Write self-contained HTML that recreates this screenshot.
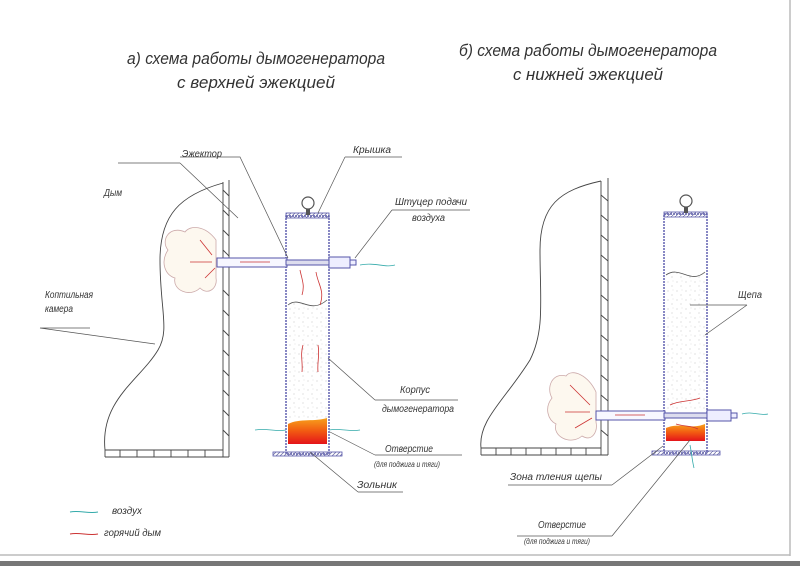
<!DOCTYPE html>
<html><head><meta charset="utf-8"><style>
html,body{margin:0;padding:0;background:#fff;}
svg{display:block;}
text{font-family:"Liberation Sans","DejaVu Sans",sans-serif;font-style:italic;fill:#333;}
</style></head><body>
<svg width="800" height="566" viewBox="0 0 800 566" xmlns="http://www.w3.org/2000/svg">
<defs>
<linearGradient id="fire" x1="0" y1="0" x2="0" y2="1">
<stop offset="0" stop-color="#f7a21c"/><stop offset="0.5" stop-color="#f25a12"/><stop offset="1" stop-color="#e4141a"/>
</linearGradient>
<pattern id="hatch" width="4" height="4" patternUnits="userSpaceOnUse"><path d="M0 4L4 0" stroke="#7777aa" stroke-width="0.8"/></pattern>
<pattern id="chips" width="9" height="9" patternUnits="userSpaceOnUse"><circle cx="2" cy="3" r="0.6" fill="#ccc"/><circle cx="6" cy="7" r="0.6" fill="#ccc"/><circle cx="7" cy="2" r="0.5" fill="#ddd"/></pattern>
</defs>
<rect width="800" height="566" fill="#fff"/>
<!-- borders -->
<line x1="790" y1="0" x2="790" y2="556" stroke="#bbb" stroke-width="1.5"/>
<line x1="0" y1="555" x2="790" y2="555" stroke="#bbb" stroke-width="1.5"/>
<rect x="0" y="561" width="800" height="5" fill="#777"/>

<!-- titles -->
<text x="256" y="64" font-size="17" text-anchor="middle" textLength="258" lengthAdjust="spacingAndGlyphs">а) схема работы дымогенератора</text>
<text x="256" y="88" font-size="17" text-anchor="middle" textLength="158" lengthAdjust="spacingAndGlyphs">с верхней эжекцией</text>
<text x="588" y="56" font-size="17" text-anchor="middle" textLength="258" lengthAdjust="spacingAndGlyphs">б) схема работы дымогенератора</text>
<text x="588" y="80" font-size="17" text-anchor="middle" textLength="150" lengthAdjust="spacingAndGlyphs">с нижней эжекцией</text>

<g fill="none" stroke="#444" stroke-width="0.9">
<!-- LEFT smokehouse -->
<path d="M223 183 C180 195 160 215 160 260 C160 310 170 330 158 350 C140 380 100 400 105 450"/>
<line x1="223" y1="182" x2="223" y2="457"/><line x1="229" y1="180" x2="229" y2="457"/>
<path d="M223 190 L229 196 M223 210 L229 216 M223 230 L229 236 M223 250 L229 256 M223 290 L229 296 M223 310 L229 316 M223 330 L229 336 M223 350 L229 356 M223 370 L229 376 M223 390 L229 396 M223 410 L229 416 M223 430 L229 436"/>
<line x1="105" y1="450" x2="223" y2="450"/><line x1="105" y1="457" x2="229" y2="457"/><line x1="105" y1="450" x2="105" y2="457"/>
<path d="M120 450v7M137 450v7M154 450v7M171 450v7M188 450v7M205 450v7"/>
<!-- RIGHT smokehouse -->
<path d="M601 181 C560 190 540 205 540 250 C540 300 545 330 530 360 C505 400 478 420 481 448"/>
<line x1="601" y1="181" x2="601" y2="455"/><line x1="608" y1="178" x2="608" y2="455"/>
<path d="M601 195 L608 201 M601 215 L608 221 M601 235 L608 241 M601 255 L608 261 M601 275 L608 281 M601 295 L608 301 M601 315 L608 321 M601 335 L608 341 M601 355 L608 361 M601 375 L608 381 M601 395 L608 401 M601 430 L608 436"/>
<line x1="481" y1="448" x2="601" y2="448"/><line x1="481" y1="455" x2="608" y2="455"/><line x1="481" y1="448" x2="481" y2="455"/>
<path d="M496 448v7M511 448v7M526 448v7M541 448v7M556 448v7M571 448v7M586 448v7"/>
</g>

<!-- smoke clouds -->
<path d="M216 240 C205 225 190 225 185 232 C170 225 160 240 168 250 C160 262 165 275 175 278 C172 290 190 298 200 288 C208 296 218 288 216 278 Z" fill="#fdf8ef" stroke="#caa" stroke-width="0.8"/>
<path d="M596 392 C588 375 572 368 566 376 C552 372 546 388 552 398 C544 408 548 420 556 424 C552 436 570 446 582 436 C592 442 598 432 596 422 Z" fill="#fdf8ef" stroke="#caa" stroke-width="0.8"/>

<!-- LEFT generator -->
<rect x="286" y="216" width="43" height="238" fill="#fff" stroke="#5555aa" stroke-width="1.4" stroke-dasharray="2 1"/>
<path d="M288 305 C300 295 310 315 327 300 L327 420 L288 420 Z" fill="url(#chips)" stroke="none"/>
<path d="M288 305 C300 295 310 315 327 300" fill="none" stroke="#555" stroke-width="0.8"/>
<path d="M288 424 C300 418 315 422 327 418 L327 444 L288 444 Z" fill="url(#fire)"/>
<rect x="286" y="213" width="43" height="5" fill="url(#hatch)" stroke="#5555aa" stroke-width="0.8"/>
<circle cx="308" cy="203" r="6" fill="none" stroke="#555" stroke-width="1.2"/><rect x="306" y="209" width="4" height="6" fill="#555"/>
<rect x="273" y="452" width="69" height="4" fill="url(#hatch)" stroke="#5555aa" stroke-width="0.8"/>
<rect x="217" y="258" width="70" height="9" fill="#f7f7ff" stroke="#5555aa" stroke-width="1"/>
<rect x="286" y="260" width="43" height="5" fill="#dde" stroke="#5555aa" stroke-width="1"/>
<rect x="329" y="257" width="21" height="11" fill="#eef" stroke="#5555aa" stroke-width="1"/>
<rect x="350" y="260" width="6" height="5" fill="#eef" stroke="#5555aa" stroke-width="1"/>

<!-- RIGHT generator -->
<rect x="664" y="214" width="43" height="239" fill="#fff" stroke="#5555aa" stroke-width="1.4" stroke-dasharray="2 1"/>
<path d="M666 275 C680 265 690 285 705 272 L705 410 L666 410 Z" fill="url(#chips)"/>
<path d="M666 275 C680 265 690 285 705 272" fill="none" stroke="#555" stroke-width="0.8"/>
<path d="M666 428 C680 422 690 430 705 424 L705 441 L666 441 Z" fill="url(#fire)"/>
<rect x="664" y="212" width="43" height="5" fill="url(#hatch)" stroke="#5555aa" stroke-width="0.8"/>
<circle cx="686" cy="201" r="6" fill="none" stroke="#555" stroke-width="1.2"/><rect x="684" y="207" width="4" height="6" fill="#555"/>
<rect x="652" y="451" width="68" height="4" fill="url(#hatch)" stroke="#5555aa" stroke-width="0.8"/>
<rect x="596" y="411" width="69" height="9" fill="#f7f7ff" stroke="#5555aa" stroke-width="1"/>
<rect x="664" y="413" width="43" height="5" fill="#dde" stroke="#5555aa" stroke-width="1"/>
<rect x="707" y="410" width="24" height="11" fill="#eef" stroke="#5555aa" stroke-width="1"/>
<rect x="731" y="413" width="6" height="5" fill="#eef" stroke="#5555aa" stroke-width="1"/>

<!-- flows -->
<g fill="none" stroke-width="0.8">
<path d="M360 265 C375 262 385 268 395 265" stroke="#3aa"/>
<path d="M255 430 C268 428 275 432 286 430" stroke="#3aa"/>
<path d="M329 430 C340 428 350 432 360 430" stroke="#3aa"/>
<path d="M742 414 C752 411 760 416 768 414" stroke="#3aa"/>
<path d="M690 445 C692 455 692 460 694 468" stroke="#3aa"/>
<path d="M300 270 C302 280 305 285 302 295 M316 272 C318 285 325 290 320 305 M303 345 C300 355 303 362 302 372 M318 345 C320 355 317 362 318 372 M240 262 L270 262 M200 240 L212 255 M190 262 L212 262 M205 278 L215 268" stroke="#c33"/>
<path d="M615 415 L645 415 M670 405 C680 400 690 402 700 398 M676 424 C685 427 690 425 698 429 M570 385 L590 405 M565 412 L590 412 M575 428 L592 418" stroke="#c33"/>
</g>

<!-- leaders -->
<g fill="none" stroke="#555" stroke-width="0.7">
<path d="M180 163 L118 163 M180 163 L238 218"/>
<path d="M90 328 L40 328 M40 328 L155 344"/>
<path d="M180 157 L240 157 L288 258"/>
<path d="M345 157 L402 157 M345 157 L318 213"/>
<path d="M392 210 L470 210 M392 210 L355 258"/>
<path d="M375 400 L458 400 M375 400 L328 358"/>
<path d="M375 455 L462 455 M375 455 L330 432"/>
<path d="M358 492 L403 492 M358 492 L310 452"/>
<path d="M690 305 L747 305 M747 305 L705 335"/>
<path d="M508 485 L612 485 M612 485 L663 446"/>
<path d="M517 536 L612 536 M612 536 L690 440"/>
</g>

<!-- labels -->
<g font-size="10">
<text x="182" y="157" textLength="40" lengthAdjust="spacingAndGlyphs">Эжектор</text>
<text x="353" y="153" textLength="38" lengthAdjust="spacingAndGlyphs">Крышка</text>
<text x="395" y="205" textLength="72" lengthAdjust="spacingAndGlyphs">Штуцер подачи</text>
<text x="412" y="221" textLength="33" lengthAdjust="spacingAndGlyphs">воздуха</text>
<text x="104" y="196" textLength="18" lengthAdjust="spacingAndGlyphs">Дым</text>
<text x="45" y="298" textLength="48" lengthAdjust="spacingAndGlyphs">Коптильная</text>
<text x="45" y="312" textLength="28" lengthAdjust="spacingAndGlyphs">камера</text>
<text x="400" y="393" textLength="30" lengthAdjust="spacingAndGlyphs">Корпус</text>
<text x="382" y="412" textLength="72" lengthAdjust="spacingAndGlyphs">дымогенератора</text>
<text x="385" y="452" textLength="48" lengthAdjust="spacingAndGlyphs">Отверстие</text>
<text x="374" y="467" font-size="8" textLength="66" lengthAdjust="spacingAndGlyphs">(для поджига и тяги)</text>
<text x="357" y="488" textLength="40" lengthAdjust="spacingAndGlyphs">Зольник</text>
<text x="738" y="298" textLength="24" lengthAdjust="spacingAndGlyphs">Щепа</text>
<text x="510" y="480" textLength="92" lengthAdjust="spacingAndGlyphs">Зона тления щепы</text>
<text x="538" y="528" textLength="48" lengthAdjust="spacingAndGlyphs">Отверстие</text>
<text x="524" y="544" font-size="8" textLength="66" lengthAdjust="spacingAndGlyphs">(для поджига и тяги)</text>
<text x="112" y="514" textLength="30" lengthAdjust="spacingAndGlyphs">воздух</text>
<text x="104" y="536" textLength="57" lengthAdjust="spacingAndGlyphs">горячий дым</text>
</g>
<path d="M70 512 C80 510 88 514 98 512" fill="none" stroke="#3aa" stroke-width="0.9"/>
<path d="M70 534 C80 532 88 536 98 534" fill="none" stroke="#c33" stroke-width="0.9"/>
</svg>
</body></html>
